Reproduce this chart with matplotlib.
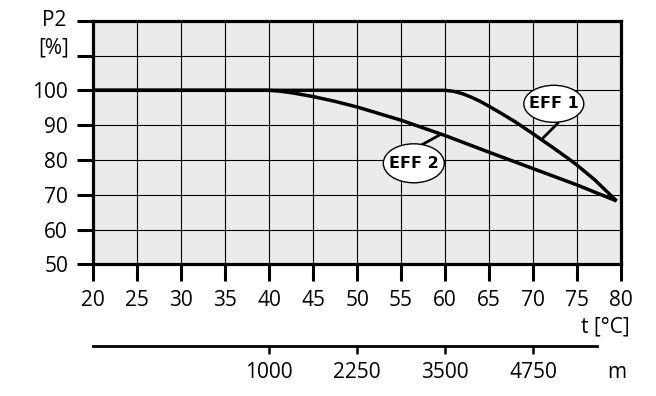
import matplotlib
matplotlib.use("Agg")
import matplotlib.pyplot as plt
from matplotlib.patches import Ellipse

plt.rcParams['font.family'] = ['Open Sans', 'DejaVu Sans']

# Data
temp_ticks = [20, 25, 30, 35, 40, 45, 50, 55, 60, 65, 70, 75, 80]
p2_ticks = [50, 60, 70, 80, 90, 100, 110, 120]
p2_labels = ['50', '60', '70', '80', '90', '100', '', '']

eff1_t = [20, 40, 60, 61, 62, 63, 64, 65, 66.5, 68, 70, 72, 74, 75, 77, 79.5]
eff1_p = [100, 100, 100, 99.7, 99.0, 98.0, 96.8, 95.4, 93.2, 90.9, 87.5, 84.0, 80.4, 78.5, 74.3, 68.2]

eff2_t = [20, 40, 41, 42, 43, 45, 47.5, 50, 55, 60, 65, 70, 75, 79.5]
eff2_p = [100, 100, 99.8, 99.5, 99.1, 98.2, 96.8, 95.2, 91.4, 87.0, 82.2, 77.5, 72.8, 68.2]

alt_pos = [40, 50, 60, 70]
alt_labels = ['1000', '2250', '3500', '4750']

W, H = 656, 396
fig = plt.figure(figsize=(W / 100, H / 100), dpi=100)

def fx(px):
    return px / W

def fy(py):
    return 1 - py / H

FS = 15
left, right, top, bottom = 93.3, 621.0, 20.7, 264.3
ax = fig.add_axes([fx(left), fy(bottom), fx(right - left), (bottom - top) / H])
ax.set_facecolor('#ebebeb')
ax.set_xlim(20, 80)
ax.set_ylim(50, 120)

ax.set_xticks(temp_ticks)
ax.set_xticklabels([str(t) for t in temp_ticks])
ax.set_yticks(p2_ticks)
ax.set_yticklabels(p2_labels)
ax.grid(True, color='black', linewidth=0.8)
ax.set_axisbelow(True)
for s in ax.spines.values():
    s.set_linewidth(2.3)
    s.set_zorder(5)
ax.tick_params(axis='x', direction='out', length=12.2, width=2.2, pad=6, labelsize=FS)
ax.tick_params(axis='y', direction='out', length=11.5, width=2.2, pad=6, labelsize=FS)

ax.plot(eff1_t, eff1_p, color='black', lw=2.5, solid_capstyle='butt',
        solid_joinstyle='round', zorder=3)
ax.plot(eff2_t, eff2_p, color='black', lw=2.5, solid_capstyle='butt',
        solid_joinstyle='round', zorder=3)

# axis titles
fig.text(fx(66), fy(20), 'P2', ha='right', va='center', fontsize=FS)
fig.text(fx(69), fy(48), '[%]', ha='right', va='center', fontsize=FS)
fig.text(fx(630), fy(327), 't [°C]', ha='right', va='center', fontsize=FS)

# labels in ellipses (pixel coordinates -> figure fraction)
def label(cx, cy, w, h, txt, x0, y0, x1, y1):
    fig.add_artist(plt.Line2D([fx(x0), fx(x1)], [fy(y0), fy(y1)], color='black', lw=2.0,
                              transform=fig.transFigure, zorder=6))
    e = Ellipse((fx(cx), fy(cy)), fx(w), h / H, transform=fig.transFigure,
                facecolor='white', edgecolor='black', lw=1.0, zorder=7)
    fig.add_artist(e)
    fig.text(fx(cx), fy(cy), txt, ha='center', va='center', fontsize=11.5,
             fontweight='bold', family='DejaVu Sans', zorder=8)

label(553.8, 103.8, 60, 37, 'EFF 1', 557.7, 123.3, 543.3, 137.7)
label(413.8, 163.3, 61, 39, 'EFF 2', 422.7, 144.3, 440.5, 134.5)

# secondary altitude axis
ax2 = fig.add_axes([fx(left), fy(345.7), fx(right - left), 0.001])
ax2.set_xlim(20, 80)
ax2.patch.set_visible(False)
for k in ['top', 'left', 'right']:
    ax2.spines[k].set_visible(False)
ax2.spines['bottom'].set_linewidth(2.0)
ax2.spines['bottom'].set_bounds(20, 77.3)
ax2.set_yticks([])
ax2.set_xticks(alt_pos)
ax2.set_xticklabels(alt_labels)
ax2.tick_params(axis='x', direction='out', length=5.5, width=1.8, pad=8, labelsize=FS)
fig.text(fx(617), fy(372), 'm', ha='center', va='center', fontsize=FS)

# fine-tune label pads so that label positions match the reference (in pixels)
fig.canvas.draw()
r = fig.canvas.get_renderer()
px2pt = 72 / 100
yl = [t for t in ax.get_yticklabels() if t.get_text()]
right_edge = max(t.get_window_extent(r).x1 for t in yl)
ax.tick_params(axis='y', pad=6 + (right_edge - 68) * px2pt)
xl = ax.get_xticklabels()
cy = sum((t.get_window_extent(r).y0 + t.get_window_extent(r).y1) / 2 for t in xl) / len(xl)
ax.tick_params(axis='x', pad=6 + (300 - (H - cy)) * px2pt)
al = ax2.get_xticklabels()
cy2 = sum((t.get_window_extent(r).y0 + t.get_window_extent(r).y1) / 2 for t in al) / len(al)
ax2.tick_params(axis='x', pad=8 + (372 - (H - cy2)) * px2pt)
fig.canvas.draw()

fig.savefig('out.png', dpi=100)
